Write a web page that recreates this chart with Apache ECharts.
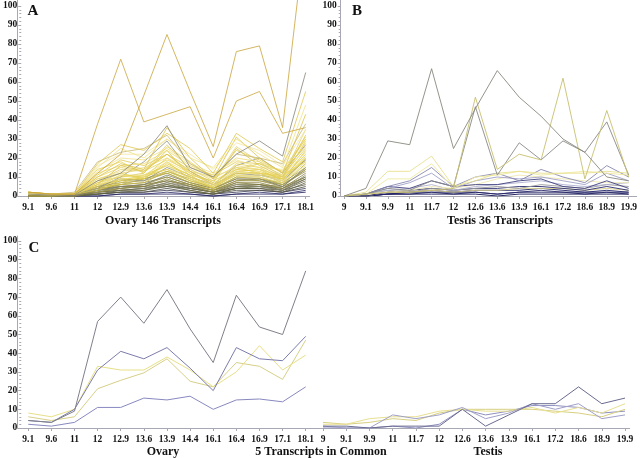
<!DOCTYPE html>
<html><head><meta charset="utf-8">
<script src="https://cdn.jsdelivr.net/npm/echarts@6/dist/echarts.min.js"></script>
<style>html,body{margin:0;padding:0;background:#fff}#c{width:640px;height:458px}</style>
</head><body><div id="c"></div>
<script>
// ---------- data ----------
const ovaryCats = ['9.1','9.6','11','12','12.9','13.6','13.9','14.4','16.1','16.4','16.9','17.1','18.1'];
const testisCats = ['9','9.1','9.9','11','11.7','12','12.6','13.6','13.9','16.1','17.2','18.6','18.9','19.9'];
const yMin = 0, yMax = 100, yStep = 10;

// Panel A: ovary, 146 transcripts (representative subset)
const panelA = [
  [0,0,0,0,1,1,1,1,0,1,1,1,2],
  [0,0,0,0,1,1,2,1,0,1,2,1,3],
  [0,0,1,1,2,2,3,2,1,2,3,2,4],
  [0,0,0,1,2,2,4,2,1,3,3,2,5],
  [0,0,0,2,3,4,5,4,2,4,4,3,6],
  [0,0,0,1,2,3,5,3,1,4,4,2,7],
  [0,0,0,1,3,3,6,3,1,4,5,3,8],
  [1,1,1,3,4,5,6,4,2,5,5,4,9],
  [1,0,0,2,3,4,7,4,2,5,6,3,9],
  [0,0,0,2,4,5,8,5,2,6,6,4,10],
  [1,1,1,4,5,6,8,6,3,7,6,5,10],
  [1,0,1,2,5,4,7,5,3,6,5,3,11],
  [0,0,0,3,5,5,9,5,2,7,7,4,12],
  [0,0,0,3,6,7,10,6,3,8,9,6,13],
  [1,1,1,2,4,6,10,6,3,8,8,5,14],
  [1,1,1,5,7,8,12,7,4,9,8,6,14],
  [1,0,0,3,5,6,11,7,4,9,9,5,15],
  [1,1,1,4,8,9,13,9,4,10,9,7,15],
  [0,0,1,4,6,9,12,7,3,10,10,6,17],
  [1,1,1,5,6,7,13,8,5,11,11,9,19],
  [1,1,1,5,9,8,15,10,6,12,11,8,19],
  [1,1,1,3,7,10,14,8,4,12,12,7,20],
  [1,1,1,6,8,11,16,11,4,13,12,10,22],
  [1,0.5,1,4,9,9,18,9,5,13,14,8,24],
  [1,1,1,7,10,12,24,10,5,14,17,11,25],
  [1,1,1,4,10,18,29,13,6,16,20,12,27],
  [1,1,1,5,11,10,20,12,6,17,15,9,29],
  [1,1,1,6,9,10,16,9,5,11,10,7,18],
  [1,1,1,8,10,11,14,10,6,12,12,9,20],
  [1,1,1,6,11,11,18,12,7,13,11,8,16],
  [1,1,1,10,15,13,19,13,10,15,12,11,18],
  [2,1,1,7,12,9,17,11,8,14,13,9,21],
  [1,1,1,9,13,15,20,14,9,16,14,11,23],
  [1,1,1,11,19,16,22,15,11,18,17,13,26],
  [2,1,1,9,12,14,22,12,6,15,14,10,28],
  [1,1,1,13,20,19,25,17,12,19,15,14,30],
  [1,1,1,14,18,12,26,18,9,24,19,12,30],
  [1,1,1,12,16,17,24,16,11,20,18,13,31],
  [2,1,1,6,16,13,22,13,7,25,16,10,32],
  [1,1,1,8,14,13,27,14,8,26,18,10,35],
  [1,1,1,16,22,22,30,22,14,28,24,16,35],
  [1,1,2,18,23,25,32,17,10,22,20,17,38],
  [1,1,1,10,17,14,36,20,9,31,20,12,43],
  [1,1,1,15,25,20,30,20,15,30,22,15,48],
  [2,1,1,17,27,24,33,25,12,33,25,18,55],
  [1,0.5,0.5,8,12,22,37,15,10,22,29,21,65],
  [2,1,1,38,72,39,43,47,20,50,55,33,36],
  [2,1,1,12,22,53,85,55,26,76,79,36,140]
];

// Panel B: testis, 36 transcripts (representative subset)
const panelB = [
  [0,0,1,1,1,1,1,0,1,1,1,1,1,1],
  [0,0,1,1,2,1,2,1,2,2,2,1,2,1],
  [0,0,1,2,2,2,2,1,2,3,2,2,2,2],
  [0,0,1,2,3,2,3,3,3,4,3,2,3,2],
  [0,0,2,2,3,2,3,3,4,4,4,3,4,3],
  [0,0,2,3,4,3,4,4,5,5,4,3,5,3],
  [0,1,3,2,4,3,4,5,4,6,5,4,6,5],
  [0,1,3,4,6,3,5,6,7,8,6,5,6,7],
  [0,1,2,3,5,4,6,9,11,10,9,8,7,7],
  [0,1,5,4,8,5,6,6,8,9,5,4,8,4],
  [0,1,4,7,12,4,8,10,9,10,8,6,12,8],
  [0,1,5,8,15,5,10,12,8,14,10,7,16,10],
  [0,1,9,9,17,4,10,11,13,11,12,13,12,11],
  [0,2,13,13,21,5,8,12,13,12,12,12,13,12],
  [0,1,4,3,8,5,47,11,28,19,29,23,39,11],
  [0,1,2,2,3,4,52,14,22,19,62,9,45,10],
  [0,4,29,27,67,25,46,66,52,42,30,23,10,8]
];

// Panel C: the 5 transcripts in common
const panelCOvary = [
  [2,1,3,11,11,16,15,17,10,15,15.5,14,22],
  [6,4,6,21,25.5,29.5,37,25,22,35,33,26,47],
  [8,6,10,33,31,31,38,31,22,30,44,31,39],
  [4,3,10,31,41,37,43,32,20,43,37,36,49],
  [4,3,9,57,70,56,74,53,35,71,54,50,84]
];
const panelCTestis = [
  [0,0,0,1,0,2,10,7,9,12,12,11,8,9],
  [3,2,3,5,4,8,10,10,10,10,9,8,6,10],
  [2,2,5,6,6,9,10,9,9,11,8,11,8,13],
  [1,0,0,7,5,7,11,5,8,13,10,13,5,7],
  [1,1,0,1,1,1,10,1,7,13,13,22,13,16]
];

// ---------- styles ----------
const colorsA = [
  '#1c1c5a','#2a2a66','#3a3a52','#4a4a44','#55553e','#5c5c44','#66663e','#707048','#6a6a50',
  '#7a7440','#807a3c','#8a8a70','#8a8240','#908a50','#9a9040','#a29a48','#7c7c6c','#b0a440',
  '#bcae40','#c8b840','#8e8e80','#d4c040','#dcc848','#e2cc44','#d8c858','#909086','#e6d050',
  '#eadc78','#e6d464','#efe190','#e9d55c','#e4cf48','#ede08a','#e0cc50','#e8d46c','#f0e28c',
  '#e6d256','#ecda70','#dcc44a','#e2d27a','#f2e6a0','#c8b878','#dcc450','#f0e28a','#e0c850',
  '#86847a','#cba640','#c9a43a'
];
const colorsB = [
  '#101050','#1c1c60','#2a2a6c','#202068','#d8d088','#2a2a70','#9a9a9a','#b0b0d0','#f0e8b0','#404080',
  '#a0a0c8','#8888b0','#f0eaa0','#e8e090','#8a8a88','#c8c070','#8a8a80'
];
const colorsCOvary = ['#8888c0','#d8d088','#e8e088','#7c7cac','#80808c'];
const colorsCTestis = ['#9090c0','#d8d080','#e8e090','#a0a0c8','#6a6a90'];

const FONT = 'Liberation Serif';
const axisGrey = '#a8a8b4';

function frameAxes(gi) {
  return {
    x: {type:'value', gridIndex:gi, min:0, max:1, axisLine:{show:true, lineStyle:{color:axisGrey, width:1}},
        axisTick:{show:false}, axisLabel:{show:false}, splitLine:{show:false}},
    y: {type:'value', gridIndex:gi, min:0, max:1, axisLine:{show:true, lineStyle:{color:axisGrey, width:1}},
        axisTick:{show:false}, axisLabel:{show:false}, splitLine:{show:false}}
  };
}
function catAxis(gi, cats) {
  return {type:'category', gridIndex:gi, data:cats, boundaryGap:false,
    axisLine:{show:false}, axisTick:{show:true, length:3, lineStyle:{color:axisGrey}},
    axisLabel:{margin:7, fontFamily:FONT, fontWeight:'bold', fontSize:9.5, color:'#111', interval:0},
    splitLine:{show:false}};
}
function valAxis(gi, offset, showLabels) {
  return {type:'value', gridIndex:gi, min:yMin, max:yMax, interval:yStep, offset:offset,
    show: showLabels,
    axisLine:{show:false}, axisTick:{show:true, length:3, lineStyle:{color:axisGrey}},
    minorTick:{show:true, splitNumber:5, length:2, lineStyle:{color:axisGrey}},
    axisLabel:{margin:4, fontFamily:FONT, fontWeight:'bold', fontSize:9.5, color:'#111'},
    splitLine:{show:false}};
}

const grids = [
  {left:17.7, top:0, width:292, height:196},          // 0 frame A
  {left:24.6, top:6, width:281.1, height:190},        // 1 data A
  {left:340.7, top:0, width:296, height:196},         // 2 frame B
  {left:344, top:6, width:289, height:190},           // 3 data B
  {left:17.7, top:236, width:612, height:192},        // 4 frame C
  {left:24.6, top:241, width:281.1, height:187},      // 5 data C ovary
  {left:323, top:241, width:302, height:187}          // 6 data C testis
];
const fA = frameAxes(0), fB = frameAxes(2), fC = frameAxes(4);
const xAxes = [fA.x, catAxis(1, ovaryCats), fB.x, catAxis(3, testisCats), fC.x, catAxis(5, ovaryCats), catAxis(6, testisCats)];
const yAxes = [fA.y, valAxis(1, 7, true), fB.y, valAxis(3, 3.3, true), fC.y, valAxis(5, 7, true), valAxis(6, 0, false)];

const series = [];
function addLines(rows, colors, axisIdx, clip, opacity) {
  rows.forEach((r, i) => series.push({
    type:'line', xAxisIndex:axisIdx, yAxisIndex:axisIdx, data:r, symbol:'none', silent:true,
    clip: clip, lineStyle:{width:1, color:colors[i % colors.length], opacity:opacity}, animation:false
  }));
}
addLines(panelA, colorsA, 1, false, 0.8);
addLines(panelB, colorsB, 3, true, 0.9);
addLines(panelCOvary, colorsCOvary, 5, true, 1);
addLines(panelCTestis, colorsCTestis, 6, true, 1);

const txt = (x, y, s, size) => ({type:'text', x:x, y:y, style:{text:s, fill:'#111', font:'bold ' + size + 'px "' + FONT + '"', textAlign:'center', textVerticalAlign:'middle'}});
const graphics = [
  txt(33, 11, 'A', 15), txt(357, 11, 'B', 15), txt(34, 248, 'C', 15),
  txt(163, 221, 'Ovary 146 Transcripts', 12),
  txt(500, 221, 'Testis 36 Transcripts', 12),
  txt(163, 452, 'Ovary', 12),
  txt(321, 452, '5 Transcripts in Common', 12),
  txt(488, 452, 'Testis', 12)
];

const chart = echarts.init(document.getElementById('c'), null, {renderer:'canvas'});
chart.setOption({
  animation:false, backgroundColor:'#fff',
  grid:grids, xAxis:xAxes, yAxis:yAxes, series:series, graphic:graphics
});
</script></body></html>
